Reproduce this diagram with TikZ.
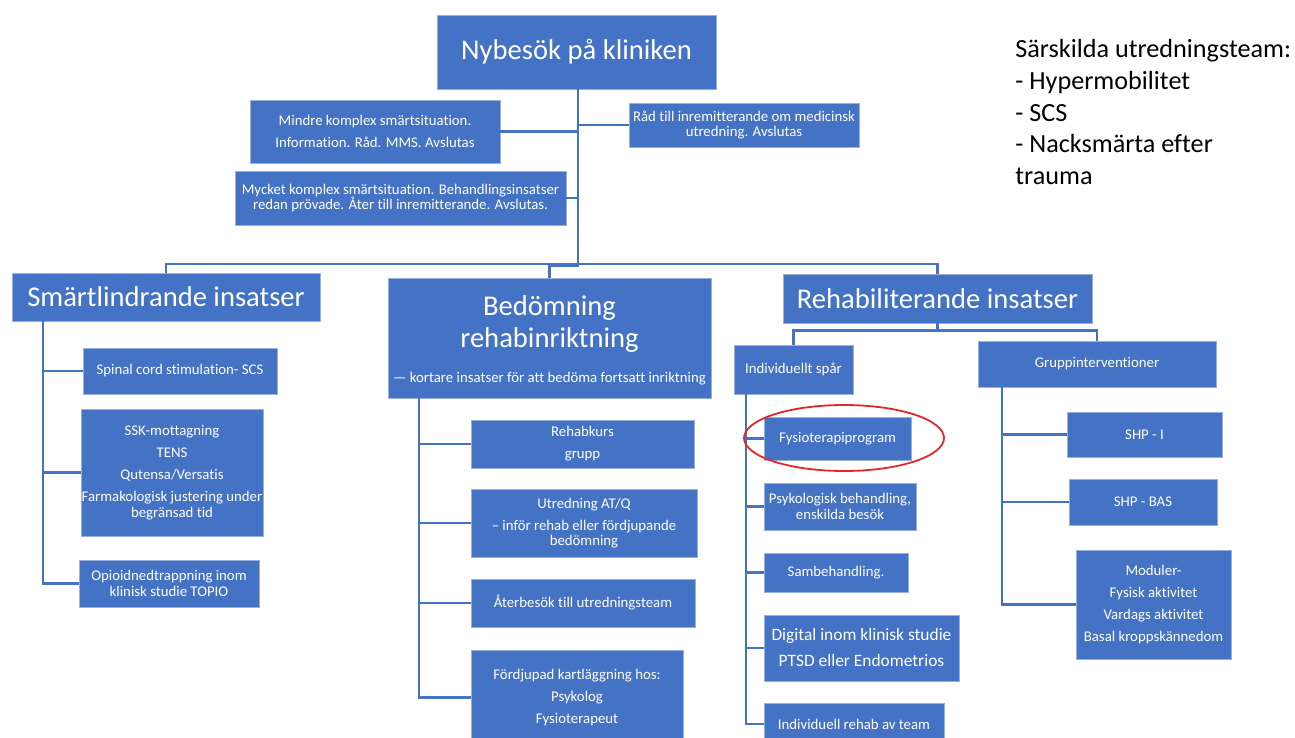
\documentclass[tikz,border=0pt]{standalone}
\usepackage{fontspec}
\setmainfont{Carlito}[Ligatures=NoCommon]

\definecolor{boxblue}{RGB}{68,114,196}
\definecolor{edgeblue}{RGB}{150,176,222}
\definecolor{ringred}{RGB}{228,38,38}

\newcommand{\headfont}{\fontsize{14.3}{16}\selectfont}
\newcommand{\itemfont}{\fontsize{7.4}{7.8}\selectfont}
\newcommand{\digifont}{\fontsize{8.7}{13}\selectfont}

\begin{document}
\begin{tikzpicture}[
    x=0.5pt, y=-0.5pt,
    wh/.style 2 args={minimum width=#1*0.5pt, minimum height=#2*0.5pt},
    box/.style={fill=boxblue, draw=edgeblue, line width=0.4pt, text=white,
        inner sep=0pt, align=center, font=\itemfont},
    head/.style={box, font=\headfont},
    conn/.style={draw=boxblue, line width=1.1pt}
]
\useasboundingbox (0,0) rectangle (1295,738);

% Top level
\node[head, wh={279}{74}] (nybesok) at (576.5,52) {Nybesök på kliniken};
\node[box, wh={250}{63}] (mindre) at (375,131.5)
    {Mindre komplex smärtsituation.\\[3.2pt]Information. Råd. MMS. Avslutas};
\node[box, wh={331}{54}] (mycket) at (400.5,198)
    {Mycket komplex smärtsituation. Behandlingsinsatser\\redan prövade. Åter till inremitterande. Avslutas.};
\node[box, wh={230}{44}] (rad) at (744,125)
    {Råd till inremitterande om medicinsk\\utredning. Avslutas};

% Side note
\node[anchor=north west, inner sep=0pt, align=left,
    font=\fontsize{13.1}{15.9}\selectfont] (teams) at (1015,39)
    {Särskilda utredningsteam:\\- Hypermobilitet\\- SCS\\- Nacksmärta efter\\trauma};

% Second level
\node[head, wh={308}{48}] (smart) at (166,297) {Smärtlindrande insatser};
\node[head, wh={323}{120}] (bedomning) at (549.5,338)
    {\rule{0pt}{12.6pt}Bedömning\\rehabinriktning\\[1.5pt]{\itemfont — kortare insatser för att bedöma fortsatt inriktning}};
\node[head, wh={309}{49}] (rehab) at (937.5,298.5) {Rehabiliterande insatser};

% Smartlindrande
\node[box, wh={194}{46}] (spinal) at (180,371) {Spinal cord stimulation- SCS};
\node[box, wh={182}{127}] (ssk) at (172,472.5)
    {SSK-mottagning\\[3.2pt]TENS\\[3.2pt]Qutensa/Versatis\\[3.2pt]Farmakologisk justering under\\begränsad tid};
\node[box, wh={180}{47}] (opioid) at (169,583.5)
    {Opioidnedtrappning inom\\klinisk studie TOPIO};

% Bedomning
\node[box, wh={223}{48}] (rehabkurs) at (582.5,444) {Rehabkurs\\[3.2pt]grupp};
\node[box, wh={226}{68}] (utredning) at (584,523)
    {Utredning AT/Q\\[3.2pt]– inför rehab eller fördjupande\\bedömning};
\node[box, wh={224}{48}] (aterbesok) at (583,603) {Återbesök till utredningsteam};
\node[box, wh={212}{95}] (fordjupad) at (577,697.5)
    {Fördjupad kartläggning hos:\\[3.2pt]Psykolog\\[3.2pt]Fysioterapeut};

% Rehabiliterande
\node[box, wh={119}{49}] (individ) at (793.5,369.5) {Individuellt spår};
\node[box, wh={238}{46}] (grupp) at (1097,364) {Gruppinterventioner};

\node[box, wh={147}{43}] (fysio) at (837.5,438.5) {Fysioterapiprogram};
\node[box, wh={152}{47}] (psyk) at (840,506.5) {Psykologisk behandling,\\enskilda besök};
\node[box, wh={144}{39}] (samb) at (836,572.5) {Sambehandling.};
\node[box, wh={195}{66}, font=\digifont] (digital) at (861.5,648)
    {Digital inom klinisk studie\\PTSD eller Endometrios};
\node[box, wh={180}{42}] (indrehab) at (854,724) {Individuell rehab av team};

\node[box, wh={155}{45}] (shpi) at (1144.5,434.5) {SHP - I};
\node[box, wh={148}{46}] (shpbas) at (1143,502) {SHP - BAS};
\node[box, wh={155}{109}] (moduler) at (1153.5,604.5)
    {Moduler-\\[3.2pt]Fysisk aktivitet\\[3.2pt]Vardags aktivitet\\[3.2pt]Basal kroppskännedom};

% Connectors, top
\coordinate (hub) at (578,264);
\draw[conn] (nybesok.south -| hub) -- (hub);
\draw[conn] (mindre.east) -- (mindre.east -| hub);
\draw[conn] (mycket.east) -- (mycket.east -| hub);
\draw[conn] (rad.west) -- (rad.west -| hub);
\draw[conn] (smart.north) |- (hub) -| (rehab.north);
\draw[conn] (bedomning.north) -- ++(0,-12) -| (hub);

% Connectors, rehab split
\draw[conn] (rehab.south) -- ++(0,7) coordinate (rehabhub);
\draw[conn] (individ.north) |- (rehabhub) -| (grupp.north);

% Connectors, lists
\foreach \c in {spinal,ssk,opioid}
    \draw[conn] ([xshift=15.5pt]smart.south west) |- (\c);
\foreach \c in {rehabkurs,utredning,aterbesok,fordjupad}
    \draw[conn] ([xshift=15.5pt]bedomning.south west) |- (\c);
\foreach \c in {fysio,psyk,samb,digital,indrehab}
    \draw[conn] ([xshift=6pt]individ.south west) |- (\c);
\foreach \c in {shpi,shpbas,moduler}
    \draw[conn] ([xshift=12pt]grupp.south west) |- (\c);

% Ring round Fysioterapiprogram
\draw[ringred, line width=0.9pt] (844,438) ellipse [x radius=100, y radius=33];

\end{tikzpicture}
\end{document}
